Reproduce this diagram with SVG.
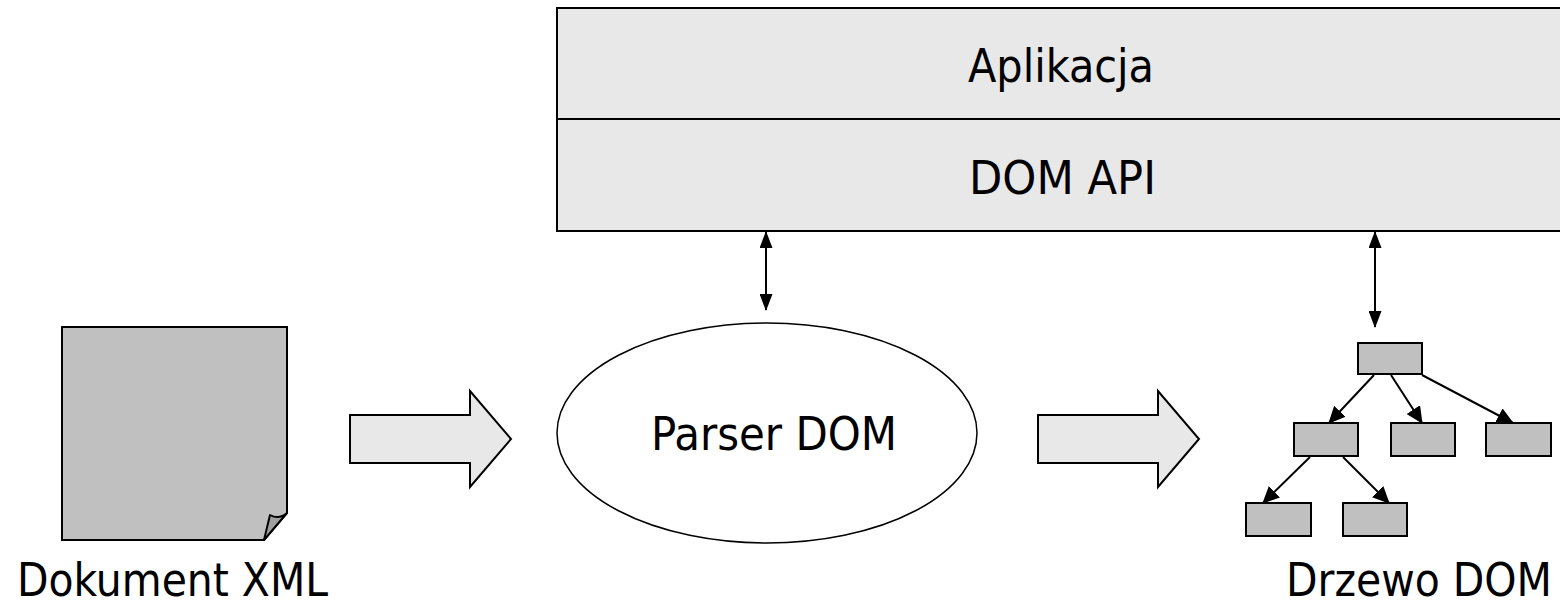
<svg xmlns="http://www.w3.org/2000/svg" width="1560" height="604" viewBox="0 0 1560 604">
<style>
.txt{font-family:"DejaVu Sans Condensed","DejaVu Sans",sans-serif;font-size:47px;fill:#000}
.lbl{font-family:"DejaVu Sans Condensed","DejaVu Sans",sans-serif;font-size:46px;fill:#000}
.band{fill:#e8e8e8;stroke:#000;stroke-width:2}
.gray{fill:#c0c0c0;stroke:#000;stroke-width:2}
.blk{fill:#e8e8e8;stroke:#000;stroke-width:2;stroke-linejoin:miter}
.con{stroke:#000;stroke-width:2;fill:none}
</style>
<defs>
<marker id="ah" markerUnits="userSpaceOnUse" markerWidth="17" markerHeight="13" refX="16" refY="6.5" viewBox="0 0 17 13" orient="auto-start-reverse">
<path d="M0,0 L17,6.5 L0,13 Z" fill="#000"/>
</marker>
<marker id="th" markerUnits="userSpaceOnUse" markerWidth="17" markerHeight="16" refX="16" refY="8" viewBox="0 0 17 16" orient="auto">
<path d="M0,0 L17,8 L0,16 Z" fill="#000"/>
</marker>
</defs>
<g id="app-stack">
<rect class="band" x="557" y="8" width="1004" height="223"/>
<line class="con" x1="557" y1="119" x2="1561" y2="119"/>
<text class="txt" x="968" y="82" textLength="186" lengthAdjust="spacingAndGlyphs">Aplikacja</text>
<text class="txt" x="969" y="194" textLength="187" lengthAdjust="spacingAndGlyphs">DOM API</text>
</g>
<g id="doc">
<path class="gray" d="M62,327 L287,327 L287,513 L264,540 L62,540 Z"/>
<path d="M287,513 Q279,520 270,515 L264,540 Z" fill="#a0a0a0" stroke="#000" stroke-width="2" stroke-linejoin="round"/>
<text class="lbl" x="17" y="596" textLength="311" lengthAdjust="spacingAndGlyphs">Dokument XML</text>
</g>
<g id="parser">
<ellipse cx="767" cy="433" rx="210" ry="110" fill="#fff" stroke="#000" stroke-width="1.5"/>
<text class="txt" x="651" y="450" textLength="246" lengthAdjust="spacingAndGlyphs">Parser DOM</text>
</g>
<g id="tree">
<rect class="gray" x="1358" y="343" width="64" height="31"/>
<rect class="gray" x="1294" y="423" width="64" height="33"/>
<rect class="gray" x="1391" y="423" width="64" height="33"/>
<rect class="gray" x="1486" y="423" width="65" height="33"/>
<rect class="gray" x="1246" y="503" width="65" height="33"/>
<rect class="gray" x="1343" y="503" width="64" height="33"/>
<text class="lbl" x="1286" y="596" textLength="266" lengthAdjust="spacingAndGlyphs">Drzewo DOM</text>
</g>
<g id="connectors">
<path class="blk" d="M350,415 L470,415 L470,391 L511,439 L470,487 L470,463 L350,463 Z"/>
<path class="blk" d="M1038,415 L1158,415 L1158,391 L1199,439 L1158,487 L1158,463 L1038,463 Z"/>
<line class="con" x1="766" y1="232" x2="766" y2="310" marker-start="url(#ah)" marker-end="url(#ah)"/>
<line class="con" x1="1375" y1="232" x2="1375" y2="327" marker-start="url(#ah)" marker-end="url(#ah)"/>
<line class="con" x1="1374" y1="375" x2="1329" y2="423" marker-end="url(#th)"/>
<line class="con" x1="1391" y1="375" x2="1422" y2="423" marker-end="url(#th)"/>
<line class="con" x1="1422" y1="375" x2="1513" y2="423" marker-end="url(#th)"/>
<line class="con" x1="1310" y1="457" x2="1263" y2="503" marker-end="url(#th)"/>
<line class="con" x1="1343" y1="457" x2="1389" y2="503" marker-end="url(#th)"/>
</g>
</svg>
